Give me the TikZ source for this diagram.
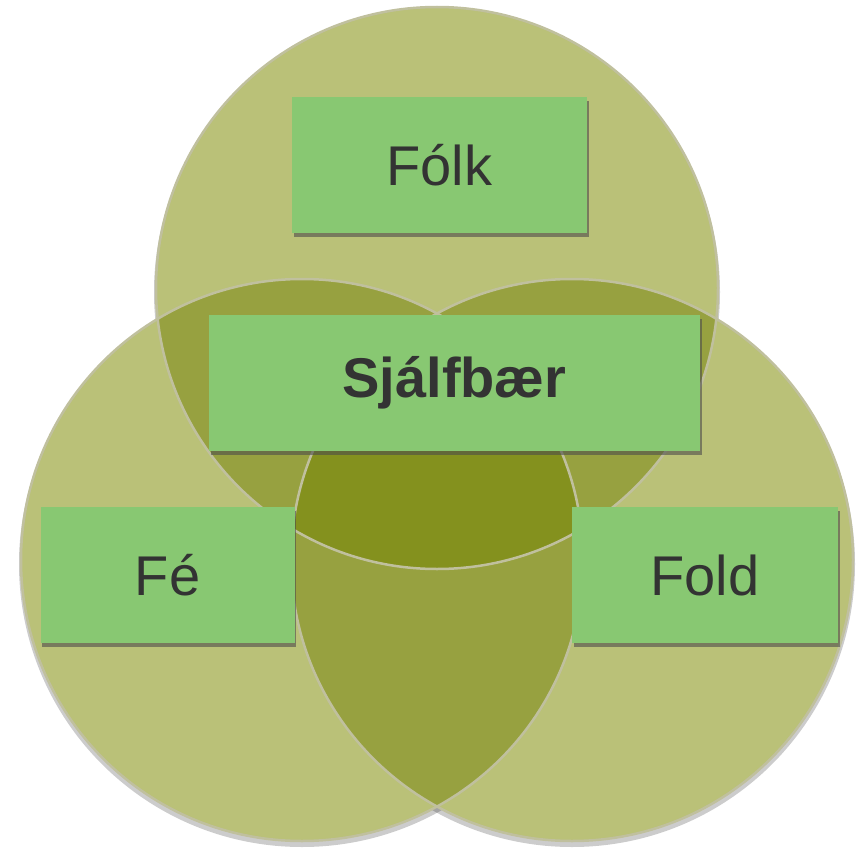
\documentclass[tikz,border=0pt]{standalone}
\usepackage{fontspec}
\setmainfont{Liberation Sans}
\usetikzlibrary{positioning, shadows}
\definecolor{olive1}{RGB}{186,193,120}
\definecolor{olive2}{RGB}{151,161,64}
\definecolor{olive3}{RGB}{132,145,30}
\definecolor{rim}{RGB}{192,192,158}
\definecolor{boxgreen}{RGB}{136,200,114}
\definecolor{ink}{RGB}{51,51,51}

\begin{document}
\begin{tikzpicture}[x=1pt,y=-1pt,
		box/.style={fill=boxgreen,inner sep=0pt,minimum height=136pt,text=ink,
			font=\fontsize{56}{60}\selectfont,
			drop shadow={shadow xshift=1.5pt,shadow yshift=-4pt,opacity=0.6,fill=black!70}}]
		\useasboundingbox (0,0) rectangle (868,851);
		\coordinate (ctop) at (437,288);
		\coordinate (cleft) at (302,560);
		\coordinate (cright) at (572,560);

		\foreach \c in {ctop,cleft,cright}
			\fill[black,opacity=0.2] ([yshift=-4pt]\c) circle[radius=283];
		\foreach \c in {ctop,cleft,cright}
			\fill[olive1] (\c) circle[radius=281];
		\begin{scope}
			\clip (ctop) circle[radius=281];
			\fill[olive2] (cleft) circle[radius=281];
			\fill[olive2] (cright) circle[radius=281];
		\end{scope}
		\begin{scope}
			\clip (cleft) circle[radius=281];
			\fill[olive2] (cright) circle[radius=281];
		\end{scope}
		\begin{scope}
			\clip (ctop) circle[radius=281];
			\clip (cleft) circle[radius=281];
			\fill[olive3] (cright) circle[radius=281];
		\end{scope}
		\foreach \c in {ctop,cleft,cright}
			\draw[rim,line width=2.5pt] (\c) circle[radius=281];

		\node[box,minimum width=295pt] (folk) at (439.5,165) {Fólk};
		\node[box,minimum width=491pt,font=\fontsize{56}{60}\selectfont\bfseries] (sjalf) at (454.5,383) {Sjálfbær};
		\node[box,minimum width=254pt] (fe) at (167.5,575) {Fé};
		\node[box,minimum width=266pt] (fold) at (705,575) {Fold};
	\end{tikzpicture}
\end{document}
